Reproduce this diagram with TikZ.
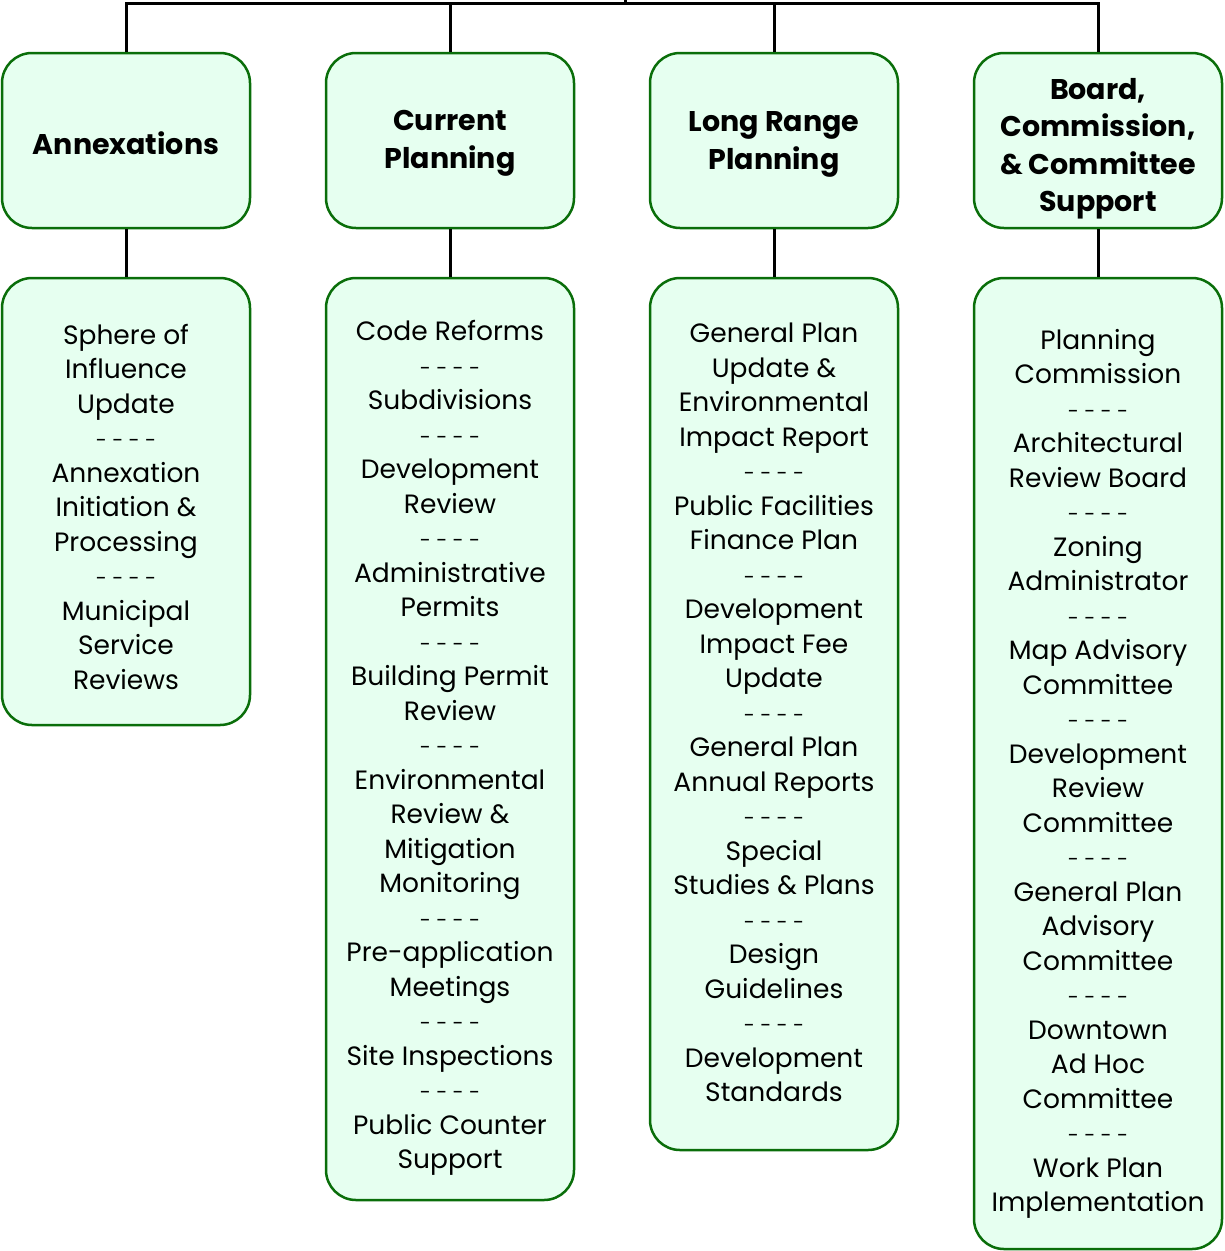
\documentclass[tikz,border=0pt]{standalone}
\usepackage{fontspec}
\setmainfont{Poppins}
\definecolor{boxline}{RGB}{10,110,10}
\definecolor{boxfill}{RGB}{230,255,240}
% short separator between duties
\newcommand\dutysep{{\fontsize{20}{34.5}\selectfont - - - -}}
\begin{document}
\begin{tikzpicture}[x=1pt,y=-1pt,
  unit/.style={draw=boxline,fill=boxfill,line width=2.5pt,rounded corners=30pt,
    minimum width=248pt,inner sep=0pt},
  head/.style={unit,minimum height=175pt},
  duty/.style={unit},
  headtext/.style={align=center,inner sep=0pt,font=\fontsize{28.5}{37.5}\selectfont\bfseries},
  dutytext/.style={align=center,inner sep=0pt,font=\fontsize{26.5}{34.5}\selectfont},
  wire/.style={line width=3pt}]
\useasboundingbox (0,0) rectangle (1225,1251);

% heads of the four sections
\node[head] (h1) at (126,140.5) {};
\node[head] (h2) at (450,140.5) {};
\node[head] (h3) at (774,140.5) {};
\node[head] (h4) at (1098,140.5) {};
\node[headtext] (ht1) at ([yshift=-3pt]h1.center) {Annexations};
\node[headtext] (ht2) at ([yshift=-3pt]h2.center) {Current\\Planning};
\node[headtext] (ht3) at ([yshift=-4pt]h3.center) {Long Range\\Planning};
\node[headtext] (ht4) at ([yshift=-8pt]h4.center) {Board,\\Commission,\\\& Committee\\Support};

% duties of each section
\node[duty,minimum height=447pt] (b1) at (126,501.5) {};
\node[duty,minimum height=922pt] (b2) at (450,739) {};
\node[duty,minimum height=872pt] (b3) at (774,714) {};
\node[duty,minimum height=971pt] (b4) at (1098,763.5) {};
\node[dutytext] (t1) at (126,506.5) {Sphere of\\Influence\\Update\\\dutysep\\Annexation\\Initiation \&\\Processing\\\dutysep\\Municipal\\Service\\Reviews};
\node[dutytext] (t2) at (450,748) {Code Reforms\\\dutysep\\Subdivisions\\\dutysep\\Development\\Review\\\dutysep\\Administrative\\Permits\\\dutysep\\Building Permit\\Review\\\dutysep\\Environmental\\Review \&\\Mitigation\\Monitoring\\\dutysep\\Pre-application\\Meetings\\\dutysep\\Site Inspections\\\dutysep\\Public Counter\\Support};
\node[dutytext] (t3) at (774,712.5) {General Plan\\Update \&\\Environmental\\Impact Report\\\dutysep\\Public Facilities\\Finance Plan\\\dutysep\\Development\\Impact Fee\\Update\\\dutysep\\General Plan\\Annual Reports\\\dutysep\\Special\\Studies \& Plans\\\dutysep\\Design\\Guidelines\\\dutysep\\Development\\Standards};
\node[dutytext] (t4) at (1098,774) {Planning\\Commission\\\dutysep\\Architectural\\Review Board\\\dutysep\\Zoning\\Administrator\\\dutysep\\Map Advisory\\Committee\\\dutysep\\Development\\Review\\Committee\\\dutysep\\General Plan\\Advisory\\Committee\\\dutysep\\Downtown\\Ad Hoc\\Committee\\\dutysep\\Work Plan\\Implementation};

% connectors
\coordinate (root) at (625,-10);
\coordinate (bus) at (625,3);
\draw[wire] (root) -- (bus);
\draw[wire] (h1.north) -- (h1.north |- bus) -- (h4.north |- bus) -- (h4.north);
\draw[wire] (h2.north) -- (h2.north |- bus);
\draw[wire] (h3.north) -- (h3.north |- bus);
\foreach \i in {1,2,3,4} \draw[wire] (h\i.south) -- (b\i.north);
\end{tikzpicture}
\end{document}
